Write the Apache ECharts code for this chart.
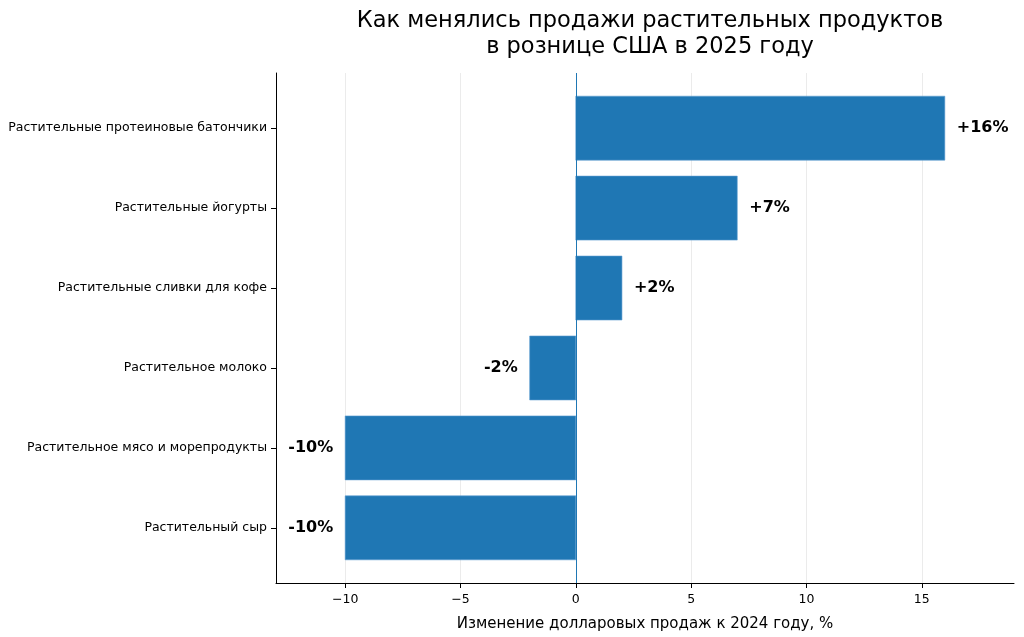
<!DOCTYPE html>
<html>
<head>
<meta charset="utf-8">
<script src="https://cdn.jsdelivr.net/npm/echarts@6/dist/echarts.min.js"></script>
<style>
  html, body { margin: 0; padding: 0; background: #fff; }
  #chart { width: 1024px; height: 637px; }
</style>
</head>
<body>
<div id="chart"></div>
<script>
// categories from bottom to top
const categories = [
  'Растительный сыр',
  'Растительное мясо и морепродукты',
  'Растительное молоко',
  'Растительные сливки для кофе',
  'Растительные йогурты',
  'Растительные протеиновые батончики'
]
const changes = [-10, -10, -2, 2, 7, 16]
const xTicks = [-10, -5, 0, 5, 10, 15]
const yTicks = [0, 1, 2, 3, 4, 5]

const barColor = '#1f77b4'
const font = 'DejaVu Sans'

const chart = echarts.init(document.getElementById('chart'), null, { renderer: 'canvas' })

// bar + value label, drawn through the axes' own scales
function renderBar(params, api) {
  const i = api.value(0)
  const v = api.value(1)
  const p0 = api.coord([0, i + 0.4])
  const p1 = api.coord([v, i - 0.4])
  const end = api.coord([v, i])
  const pos = v >= 0
  return {
    type: 'group',
    children: [{
      type: 'rect',
      shape: {
        x: Math.min(p0[0], p1[0]),
        y: p0[1],
        width: Math.abs(p1[0] - p0[0]),
        height: p1[1] - p0[1]
      },
      style: { fill: barColor, stroke: '#5a9bd0', lineWidth: 0.6 }
    }, {
      type: 'text',
      x: end[0] + (pos ? 12 : -12),
      y: end[1],
      style: {
        text: (pos ? '+' : '') + v + '%',
        fill: '#000',
        font: 'bold 16px "' + font + '"',
        align: pos ? 'left' : 'right',
        verticalAlign: 'middle'
      }
    }]
  }
}

chart.setOption({
  animation: false,
  backgroundColor: '#fff',
  textStyle: { fontFamily: font },
  title: {
    text: 'Как менялись продажи растительных продуктов\nв рознице США в 2025 году',
    left: 645,
    top: 3,
    textAlign: 'center',
    textStyle: {
      fontFamily: font,
      fontSize: 22.5,
      fontWeight: 'normal',
      color: '#000',
      lineHeight: 26
    }
  },
  grid: {
    left: 276,
    right: 10,
    top: 73,
    bottom: 48
  },
  xAxis: {
    type: 'value',
    min: -13,
    max: 19,
    name: 'Изменение долларовых продаж к 2024 году, %',
    nameLocation: 'middle',
    nameGap: 34,
    nameTextStyle: { fontFamily: font, fontSize: 15, color: '#000' },
    axisLine: { show: true, onZero: false, lineStyle: { color: '#000', width: 1 } },
    axisTick: {
      show: true,
      length: 5,
      customValues: xTicks,
      lineStyle: { color: '#000' }
    },
    axisLabel: {
      customValues: xTicks,
      fontFamily: font,
      fontSize: 12.5,
      color: '#000',
      margin: 10,
      formatter: v => String(v).replace('-', '\u2212')
    },
    splitLine: { show: true, lineStyle: { color: '#ebebeb', width: 1 } }
  },
  yAxis: {
    type: 'value',
    min: -0.69,
    max: 5.69,
    axisLine: { show: true, onZero: false, lineStyle: { color: '#000', width: 1 } },
    axisTick: {
      show: true,
      length: 5,
      customValues: yTicks,
      lineStyle: { color: '#000' }
    },
    axisLabel: {
      customValues: yTicks,
      fontFamily: font,
      fontSize: 12.5,
      color: '#000',
      margin: 9,
      formatter: v => categories[Math.round(v)]
    },
    splitLine: { show: false }
  },
  series: [{
    type: 'custom',
    renderItem: renderBar,
    encode: { x: 1, y: 0 },
    data: changes.map((v, i) => [i, v]),
    z: 2
  }, {
    type: 'line',
    data: [],
    z: 3,
    markLine: {
      silent: true,
      symbol: 'none',
      label: { show: false },
      lineStyle: { color: barColor, width: 1, type: 'solid' },
      data: [{ xAxis: 0 }]
    }
  }]
})
</script>
</body>
</html>
